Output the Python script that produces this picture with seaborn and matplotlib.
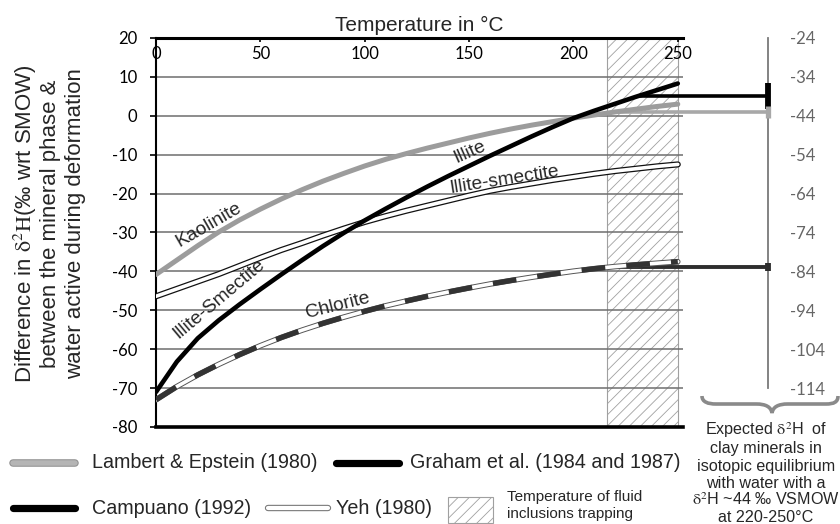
import matplotlib
matplotlib.use('Agg')
import matplotlib.pyplot as plt
import matplotlib.patheffects as pe
from matplotlib.lines import Line2D
from matplotlib.patches import Rectangle, PathPatch
from matplotlib.path import Path
import numpy as np
import pandas as pd
import seaborn as sns

# temperature grid (deg C) and read-off curves (delta in permil)
temp = list(range(0, 251, 10))
kaolinite = [-40.8, -37.1, -33.4, -29.9, -26.8, -24.0, -21.4, -19.0, -16.8, -14.8,
             -12.9, -11.2, -9.7, -8.3, -7.0, -5.7, -4.5, -3.4, -2.4, -1.5,
             -0.6, 0.2, 1.0, 1.7, 2.4, 3.0]
illite_smectite = [-71.0, -63.2, -57.2, -52.6, -48.5, -44.6, -40.8, -37.1, -33.5, -30.1,
                   -26.9, -23.9, -21.0, -18.2, -15.5, -12.9, -10.3, -7.8, -5.3, -2.9,
                   -0.6, 1.3, 3.1, 4.9, 6.6, 8.3]
yeh_illite_smectite = [-46.4, -44.5, -42.6, -40.7, -38.6, -36.5, -34.5, -32.7, -30.8, -29.0,
                       -27.3, -25.8, -24.4, -23.1, -21.8, -20.5, -19.3, -18.3, -17.4, -16.5,
                       -15.7, -14.9, -14.2, -13.6, -13.0, -12.5]
chlorite = [-73.0, -69.6, -66.6, -63.9, -61.4, -59.1, -57.0, -55.1, -53.35, -51.75,
            -50.25, -48.85, -47.6, -46.4, -45.3, -44.25, -43.25, -42.35, -41.5, -40.7,
            -39.95, -39.3, -38.75, -38.3, -37.9, -37.5]

# equilibrium levels carried to the right-hand scale
eq_level = [5.1, 1.1, -38.9]
eq_start = [232, 222, 220]
water_d2h = -44
right_ticks = list(range(-24, -115, -10))
trap_lo, trap_hi = 216, 250

df = pd.DataFrame({
    'T': temp * 4,
    'd': kaolinite + illite_smectite + yeh_illite_smectite + chlorite,
    'curve': (['Kaolinite'] * len(temp) + ['Illite-Smectite'] * len(temp)
              + ['Yeh'] * len(temp) + ['Chlorite'] * len(temp)),
})

sns.set_style('white')
plt.rcParams['font.family'] = ['Liberation Sans', 'DejaVu Sans']
plt.rcParams['mathtext.fontset'] = 'stix'
plt.rcParams['hatch.linewidth'] = 0.6
plt.rcParams['axes.unicode_minus'] = False

W, H = 840, 524
fig = plt.figure(figsize=(W / 100, H / 100), dpi=100)
ax = fig.add_axes([156 / W, 1 - 427 / H, 527 / W, 389 / H])
XMAX = 252.5
ax.set_xlim(0, XMAX)
ax.set_ylim(-80, 20)


def px(x, y):
    return (x / W, 1 - y / H)


# fluid inclusion trapping range
ax.axvspan(trap_lo, trap_hi, facecolor='white', edgecolor='#a0a0a0', hatch='///',
           lw=0.8, zorder=0.3)

ax.set_yticks(range(-80, 21, 10))
ax.set_xticks(range(0, 251, 50))
ax.grid(axis='y', color='#6e6e6e', lw=1.1)
ax.grid(axis='x', visible=False)
ax.set_axisbelow(True)

d = df[df.curve == 'Kaolinite']
sns.lineplot(data=d, x='T', y='d', ax=ax, color='#9c9c9c', lw=3.6,
             solid_capstyle='round', zorder=3)
d = df[df.curve == 'Yeh']
sns.lineplot(data=d, x='T', y='d', ax=ax, color='white', lw=2.6,
             solid_capstyle='round', zorder=3,
             path_effects=[pe.Stroke(linewidth=4.4, foreground='#111'), pe.Normal()])
d = df[df.curve == 'Chlorite']
sns.lineplot(data=d, x='T', y='d', ax=ax, color='white', lw=2.6, zorder=3,
             path_effects=[pe.Stroke(linewidth=4.0, foreground='#555'), pe.Normal()])
sns.lineplot(data=d, x='T', y='d', ax=ax, color='#333333', lw=3.8, zorder=3.1,
             dashes=False, linestyle=(0, (4.5, 4.0)))
d = df[df.curve == 'Illite-Smectite']
sns.lineplot(data=d, x='T', y='d', ax=ax, color='black', lw=3.3,
             solid_capstyle='round', zorder=3.2)

# horizontal links to the right-hand scale
r_frac = 768 / 527 - 156 / 527
r_T = r_frac * XMAX
eq_colors = ['black', '#a8a8a8', '#2e2e2e']
eq_lw = [2.6, 2.6, 2.8]
eq_ms = [19, 9, 6]
eq_mew = [4.2, 3.8, 4.2]
for lev, t0, c, lw, ms, mew in zip(eq_level, eq_start, eq_colors, eq_lw, eq_ms, eq_mew):
    ax.plot([t0, r_T], [lev, lev], color=c, lw=lw, clip_on=False, zorder=2.8)
    ax.plot([r_T], [lev], marker='|', ms=ms, mew=mew, color=c, clip_on=False, zorder=4)

# curve labels
lab_kw = dict(fontsize=13.8, ha='center', va='center', rotation_mode='anchor')
ax.text(25.4, -28.0, 'Kaolinite', rotation=30, **lab_kw)
ax.text(30, -47.2, 'Illite-Smectite', rotation=40, **lab_kw)
ax.text(87, -48.8, 'Chlorite', rotation=14, **lab_kw)
ax.text(150.5, -9.3, 'Illite', rotation=24, **lab_kw)
ax.text(167, -16.6, 'Illite-smectite', rotation=9, **lab_kw)

# spines and ticks
ax.spines['right'].set_visible(False)
ax.spines['top'].set_linewidth(2.2)
ax.spines['bottom'].set_linewidth(2.6)
ax.spines['left'].set_linewidth(1.5)
for s in ['top', 'bottom', 'left']:
    ax.spines[s].set_color('black')
ax.xaxis.tick_top()
ax.tick_params(axis='x', direction='in', length=3, width=1.2, pad=-17,
               labelsize=12, labelfontfamily='Lato', colors='black')
ax.tick_params(axis='y', direction='out', length=4.3, width=1.2, pad=9,
               labelsize=12, labelfontfamily='Lato', colors='black', left=True)
ax.xaxis.set_label_position('top')
ax.set_xlabel('Temperature in °C', fontsize=15, labelpad=5)
ax.set_ylabel('')

sec = ax.secondary_yaxis(r_frac, functions=(lambda y: y + water_d2h,
                                            lambda y: y - water_d2h))
sec.set_yticks(right_ticks)
sec.spines['right'].set_bounds(right_ticks[-1], right_ticks[0])
sec.spines['right'].set_color('#7a7a7a')
sec.spines['right'].set_linewidth(1.3)
sec.tick_params(length=0, pad=16, labelsize=12, labelfontfamily='Lato',
                labelcolor='#666666')

# y label in three lines
ylab = [r'Difference in $\mathrm{\delta^{2}H}$(‰ wrt SMOW)',
        'between the mineral phase &',
        'water active during deformation']
for xx, s in zip([25, 51, 76], ylab):
    fig.text(*px(xx, 224), s, rotation=90, fontsize=16, ha='center', va='center')

# brace and note under the right scale
brace = Path([px(702, 396), px(702, 402), px(708, 404), px(716, 404),
              px(756, 404),
              px(766, 404), px(771, 407), px(772, 413),
              px(773, 407), px(778, 404), px(788, 404),
              px(826, 404),
              px(834, 404), px(838, 402), px(838, 396)],
             [Path.MOVETO, Path.CURVE4, Path.CURVE4, Path.CURVE4,
              Path.LINETO,
              Path.CURVE4, Path.CURVE4, Path.CURVE4,
              Path.CURVE4, Path.CURVE4, Path.CURVE4,
              Path.LINETO,
              Path.CURVE4, Path.CURVE4, Path.CURVE4])
fig.add_artist(PathPatch(brace, transform=fig.transFigure, fill=False,
                         edgecolor='#8a8a8a', lw=2.6))
note = [r'Expected $\mathrm{\delta^{2}}$H  of', 'clay minerals in',
        'isotopic equilibrium', 'with water with a',
        r'$\mathrm{\delta^{2}}$H ~44 ‰ VSMOW', 'at 220-250°C']
for yy, s in zip([430, 448, 466, 483, 500, 517], note):
    fig.text(*px(766, yy), s, fontsize=11.6, ha='center', va='center')

# legend drawn along the bottom
def handle(x0, x1, y, color, lw, edge=None, elw=None):
    if edge is not None:
        fig.add_artist(Line2D([x0 / W, x1 / W], [1 - y / H] * 2, color=edge, lw=elw,
                              solid_capstyle='round', transform=fig.transFigure))
    fig.add_artist(Line2D([x0 / W, x1 / W], [1 - y / H] * 2, color=color, lw=lw,
                          solid_capstyle='round', transform=fig.transFigure))


leg_kw = dict(fontsize=14.2, ha='left', va='center')
handle(13, 75, 463, '#b5b5b5', 4.0, '#8c8c8c', 5.4)
fig.text(*px(92, 463), 'Lambert & Epstein (1980)', **leg_kw)
handle(336, 399, 463, 'black', 5.2)
fig.text(*px(410, 463), 'Graham et al. (1984 and 1987)', **leg_kw)
handle(13, 75, 508, 'black', 5.2)
fig.text(*px(92, 508), 'Campuano (1992)', **leg_kw)
handle(268, 328, 508, 'white', 3.0, '#7a7a7a', 4.6)
fig.text(*px(336, 508), 'Yeh (1980)', **leg_kw)
fig.add_artist(Rectangle(px(448, 523), 45 / W, 26 / H, transform=fig.transFigure,
                         facecolor='white', edgecolor='#a0a0a0', hatch='///', lw=0.8))
fig.text(*px(507, 497), 'Temperature of fluid', fontsize=11, ha='left', va='center')
fig.text(*px(507, 514), 'inclusions trapping', fontsize=11, ha='left', va='center')

fig.savefig('out.png', dpi=100)
